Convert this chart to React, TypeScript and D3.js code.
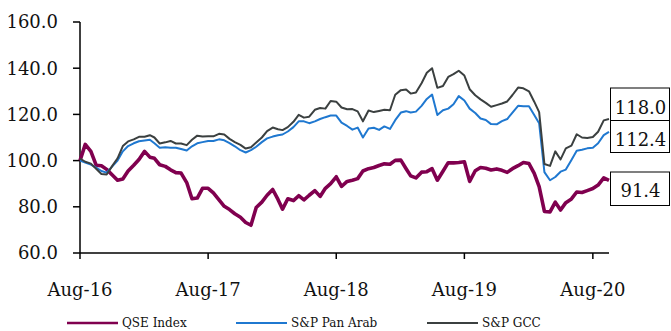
import * as d3 from "d3";

// Index levels, rebased to 100 in Aug-16, one reading every half month
const qseIndex = [
  100, 107, 104, 98, 97.8, 96.2, 93.8, 91.5, 92, 95.5,
  98, 100.5, 104, 101.5, 101, 98.2, 97.5, 96, 94.8, 94.6,
  90.5, 83.5, 83.8, 88, 88, 86, 83, 80.2, 78.8, 77,
  75.5, 73.2, 72, 79.7, 82, 85, 87.5, 83.2, 79, 83.5,
  82.7, 84.8, 83, 85, 87, 84.5, 88, 90, 93, 88.8,
  91, 91.5, 92.2, 95.5, 96.5, 97, 97.9, 98.6, 98.4, 100.1,
  100.2, 96.5, 93.4, 92.5, 95, 95.2, 96.5, 91.5, 95.4, 99.1,
  99, 99.2, 99.5, 91, 95.6, 97, 96.7, 95.9, 96.4, 95.8,
  94.9, 96.5, 97.8, 99.2, 98.7, 94.5, 88.7, 78, 77.8, 82,
  78.6, 81.8, 83.4, 86.4, 86.2, 87, 87.9, 89.4, 92.5, 91.4,
];

const spPanArab = [
  100, 99.2, 98.3, 97, 95.5, 94.8, 97.5, 100, 104, 106.3,
  107.5, 108.4, 108.7, 109, 107.5, 105.6, 105.8, 105.6, 105.6, 105,
  104.4, 106.2, 107.5, 108, 108.5, 108.5, 109.2, 108.8, 107.6, 106.2,
  104.5, 103.5, 104.5, 106, 108, 109.6, 110.4, 111, 111.3, 112.6,
  114.5, 117, 117, 116.2, 117, 118, 118.8, 119.5, 119.5, 116.4,
  115, 113.4, 114.3, 110, 113.9, 114.2, 113.3, 114.8, 113.7, 117.5,
  120.8, 121.4, 120.8, 121.2, 123.7, 126.7, 128.6, 119.7, 121.8, 122.5,
  124.4, 127.9, 126, 122.5, 120.6, 118.2, 117.6, 115.8, 115.7, 117.1,
  118, 120.8, 123.7, 123.5, 123.5, 119.7, 116.2, 95, 91.5, 92.9,
  95.2, 96.1, 100.3, 104.3, 104.7, 105.3, 105.6, 107.5, 111, 112.4,
];

const spGcc = [
  100.9, 99.5, 98.7, 96.5, 94.2, 94, 97.7, 101, 106.3, 108.3,
  109.2, 110.3, 110.3, 111, 110, 107.4, 107.9, 108.5, 107.4, 107.4,
  106.7, 109, 110.8, 110.4, 110.5, 110.5, 111.6, 111.3, 109.4, 108,
  106.8, 105.2, 105.8, 107.8, 110, 112.8, 114.3, 113.6, 113.2, 114.5,
  116.8, 119.8, 118.6, 119, 122, 122.8, 122.5, 125.8, 125.5, 123,
  122.2, 122.3, 121.3, 117, 121.7, 121, 121.5, 122, 121.8, 128.5,
  130.5, 130.8, 129, 129.5, 133.5, 138, 140, 131.5, 132.3, 136.2,
  137.4, 138.9, 136.8, 130.9, 128.3, 126.5, 125, 123.3, 124, 124.7,
  125.6, 128.4, 131.6, 131.3, 130, 125.5, 121, 98.5, 97.7, 104,
  100.5, 105.3, 106.5, 111.4, 110, 109.8, 110.2, 112.5, 117.4, 118,
];

const seriesNames = ["QSE Index", "S&P Pan Arab", "S&P GCC"];
const xTickLabels = ["Aug-16", "Aug-17", "Aug-18", "Aug-19", "Aug-20"];
const yTickValues = [60, 80, 100, 120, 140, 160];

const W = 671;
const H = 331;
const FONT = "'DejaVu Serif', serif";

// readings are taken on the 1st and 16th of each month from Aug 2016
const startDate = new Date(2016, 7, 1);
const dateAt = (i: number) =>
  new Date(startDate.getFullYear(), startDate.getMonth() + Math.floor(i / 2), i % 2 ? 16 : 1);

const parseTick = d3.timeParse("%b-%y");

const styles = [
  { color: "#80004f", width: 3.6 },
  { color: "#1f78d0", width: 2 },
  { color: "#3b4040", width: 2 },
];
// top of each end-value box (layout only)
const boxTops = [172, 120, 88];

export default function App() {
  const all = [qseIndex, spPanArab, spGcc];
  const x = d3
    .scaleTime()
    .domain([startDate, new Date(2020, 8, 16)])
    .range([80, 609]);
  const y = d3.scaleLinear().domain([60, 160]).range([253, 22]);

  const line = d3
    .line<number>()
    .x((_, i) => x(dateAt(i)))
    .y((d) => y(d));

  const legendX = [67, 236, 427];

  return (
    <svg
      width={W}
      height={H}
      style={{ position: "absolute", left: 0, top: 0, background: "#fff" }}
      fontFamily={FONT}
    >
      {/* y axis */}
      <line x1={80} x2={80} y1={y(160)} y2={y(60)} stroke="#000" strokeWidth={1.5} />
      {yTickValues.map((v) => (
        <g key={v}>
          <line x1={73} x2={80} y1={y(v)} y2={y(v)} stroke="#000" strokeWidth={1.5} />
          <text x={58} y={y(v)} dy="0.36em" textAnchor="end" fontSize={18} fill="#111">
            {v.toFixed(1)}
          </text>
        </g>
      ))}

      {/* x axis */}
      <line x1={80} x2={609} y1={253} y2={253} stroke="#000" strokeWidth={1.5} />
      {xTickLabels.map((lab) => {
        const tx = x(parseTick(lab) as Date);
        return (
          <g key={lab}>
            <line x1={tx} x2={tx} y1={253} y2={259} stroke="#000" strokeWidth={1.5} />
            <text x={tx} y={296} textAnchor="middle" fontSize={18} fill="#111">
              {lab}
            </text>
          </g>
        );
      })}

      {/* series */}
      {all.map((s, k) => (
        <path
          key={k}
          d={line(s) ?? ""}
          fill="none"
          stroke={styles[k].color}
          strokeWidth={styles[k].width}
          strokeLinejoin="round"
        />
      ))}

      {/* end value boxes */}
      {all.map((s, k) => (
        <g key={k}>
          <rect
            x={610.5}
            y={boxTops[k]}
            width={59}
            height={k === 0 ? 33.5 : 32.5}
            fill="#fff"
            stroke="#000"
            strokeWidth={1}
          />
          <text
            x={640.5}
            y={boxTops[k] + (k === 0 ? 19 : 20)}
            dy="0.36em"
            textAnchor="middle"
            fontSize={18}
            fill="#111"
          >
            {s[s.length - 1].toFixed(1)}
          </text>
        </g>
      ))}

      {/* legend */}
      {seriesNames.map((name, k) => (
        <g key={name}>
          <line
            x1={legendX[k]}
            x2={legendX[k] + 51}
            y1={323}
            y2={323}
            stroke={styles[k].color}
            strokeWidth={k === 0 ? 2.4 : 2}
          />
          <text x={legendX[k] + 55} y={323} dy="0.36em" fontSize={12} fill="#111">
            {name}
          </text>
        </g>
      ))}
    </svg>
  );
}
